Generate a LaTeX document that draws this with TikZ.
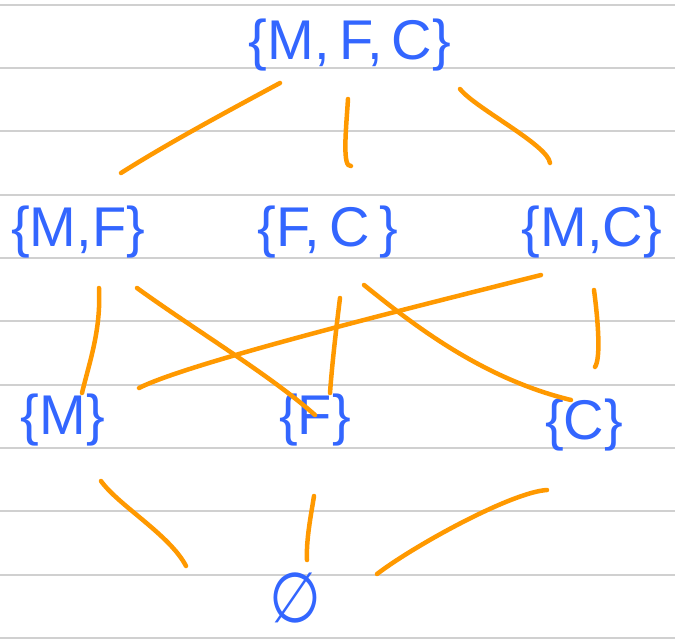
\documentclass[tikz,border=0pt]{standalone}
\usepackage{fontspec}
\setmainfont{Liberation Sans}
\newfontfamily\dejavu{DejaVu Sans}
\usetikzlibrary{calc}
\definecolor{inkblue}{RGB}{51,102,255}
\definecolor{inkorange}{RGB}{255,153,0}
\definecolor{ruleline}{RGB}{208,208,208}
\tikzset{
  setnode/.style={text=inkblue, inner sep=0pt, font=\fontsize{56}{56}\selectfont},
  edge/.style={draw=inkorange, line width=4.5pt, line cap=round, line join=round},
  rule/.style={draw=ruleline, line width=2pt}
}
\begin{document}
\begin{tikzpicture}[x=1pt,y=-1pt]
\useasboundingbox (0,0) rectangle (675,643);
\fill[white] (0,0) rectangle (675,643);
\foreach \k in {0,...,10} {
  \draw[rule] (0,{4.5+63.35*\k}) -- (675,{4.5+63.35*\k});
}
% nodes
\node[setnode] (mfc) at (350,45) {\{M,\,F,\,C\}};
\node[setnode] (mf) at (78,232) {\{M,F\}};
\node[setnode] (fc) at (328,232) {\{F,\,C\,\}};
\node[setnode] (mc) at (592,232) {\{M,C\}};
\node[setnode] (m) at (63,420) {\{M\}};
\node[setnode] (f) at (315,420) {\{F\}};
\node[setnode] (c) at (584,425) {\{C\}};
\node[setnode, font=\dejavu\fontsize{70}{70}\selectfont, xscale=0.85] (e) at (295,598) {∅};
% connectors
\draw[edge] ($(mfc)+(-70,38)$) .. controls (230,110) and (170,142) .. ($(mf)+(43,-59)$);
\draw[edge] ($(mfc)+(-2,54)$) .. controls (346,130) and (342,168) .. ($(fc)+(23,-66)$);
\draw[edge] ($(mfc)+(110,44)$) .. controls (475,108) and (548,145) .. ($(mc)+(-42,-69)$);
\draw[edge] ($(mf)+(21,56)$) .. controls (101,330) and (90,360) .. ($(m)+(19,-27)$);
\draw[edge] ($(mf)+(59,56)$) .. controls (195,330) and (270,375) .. ($(f)+(0,-5)$);
\draw[edge] ($(fc)+(12,66)$) .. controls (336,330) and (332,365) .. ($(f)+(15,-27)$);
\draw[edge] ($(fc)+(36,53)$) .. controls (410,322) and (480,378) .. ($(c)+(-13,-25)$);
\draw[edge] ($(mc)+(-51,43)$) .. controls (430,303) and (190,362) .. ($(m)+(76,-32)$);
\draw[edge] ($(mc)+(2,58)$) .. controls (598,320) and (601,358) .. ($(c)+(11,-58)$);
\draw[edge] ($(m)+(38,61)$) .. controls (118,505) and (170,535) .. ($(e)+(-109,-32)$);
\draw[edge] ($(f)+(-1,76)$) .. controls (311,515) and (306,540) .. ($(e)+(12,-38)$);
\draw[edge] ($(c)+(-37,65)$) .. controls (512,492) and (415,545) .. ($(e)+(82,-24)$);
\end{tikzpicture}
\end{document}
